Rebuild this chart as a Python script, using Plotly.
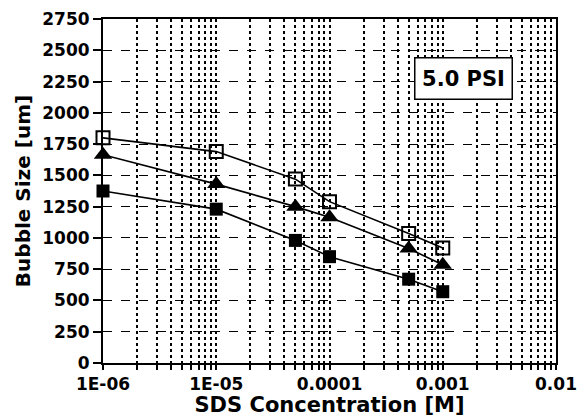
import plotly.graph_objects as go

# Data
sds_conc = [1e-6, 1e-5, 5e-5, 1e-4, 5e-4, 1e-3]
open_squares = [1800, 1690, 1470, 1290, 1035, 920]
triangles = [1665, 1430, 1250, 1165, 915, 785]
filled_squares = [1375, 1230, 980, 850, 670, 570]

major_x_labels = ["1E-06", "1E-05", "0.0001", "0.001", "0.01"]
y_ticks = list(range(0, 2751, 250))

# all log grid positions (1..9 per decade)
x_tickvals = []
x_ticktext = []
for d in range(-6, -2):
    for m in range(1, 10):
        x_tickvals.append(m * 10.0 ** d)
        x_ticktext.append(major_x_labels[d + 6] if m == 1 else "")
x_tickvals.append(1e-2)
x_ticktext.append(major_x_labels[-1])

FONT = "DejaVu Sans"

fig = go.Figure()
fig.add_trace(go.Scatter(
    x=sds_conc, y=open_squares, mode="lines+markers", cliponaxis=False,
    line=dict(color="black", width=1.6),
    marker=dict(symbol="square-open", size=13, color="black", line=dict(width=2)),
    showlegend=False))
fig.add_trace(go.Scatter(
    x=sds_conc, y=triangles, mode="lines+markers", cliponaxis=False,
    line=dict(color="black", width=1.6),
    marker=dict(symbol="triangle-up", size=16, color="black"),
    showlegend=False))
fig.add_trace(go.Scatter(
    x=sds_conc, y=filled_squares, mode="lines+markers", cliponaxis=False,
    line=dict(color="black", width=1.6),
    marker=dict(symbol="square", size=13, color="black"),
    showlegend=False))

fig.update_layout(
    width=581, height=417,
    margin=dict(l=103, r=25, t=19, b=54),
    paper_bgcolor="white", plot_bgcolor="white",
    font=dict(family=FONT, color="black"),
)

fig.update_xaxes(
    type="log", range=[-6, -2],
    tickmode="array", tickvals=x_tickvals, ticktext=x_ticktext,
    tickfont=dict(family=FONT, size=17, weight="bold"),
    ticks="outside", ticklen=5, tickwidth=1.5, tickcolor="black",
    showgrid=True, gridcolor="black", gridwidth=1.5, griddash="dot",
    showline=True, linecolor="black", linewidth=2, mirror=True,
    zeroline=False,
    title=dict(text="SDS Concentration [M]", font=dict(family=FONT, size=21, weight="bold"), standoff=5),
    automargin=False,
)
fig.update_yaxes(
    range=[0, 2750],
    tickmode="array", tickvals=y_ticks, ticktext=[str(v) for v in y_ticks],
    tickfont=dict(family=FONT, size=17, weight="bold"),
    ticks="outside", ticklen=8, tickwidth=1.5, tickcolor="black",
    showgrid=True, gridcolor="black", gridwidth=1.4, griddash="dash",
    showline=True, linecolor="black", linewidth=2, mirror=True,
    zeroline=False,
    title=dict(text="Bubble Size [um]", font=dict(family=FONT, size=20, weight="bold"), standoff=6),
    automargin=False,
)

fig.add_annotation(
    xref="paper", yref="paper", x=0.795, y=0.828,
    xanchor="center", yanchor="middle",
    text="<b>5.0 PSI</b>", showarrow=False,
    font=dict(family=FONT, size=21, color="black"),
    bgcolor="white", bordercolor="black", borderwidth=1.5,
    width=92, height=36, borderpad=2,
)

fig.write_html("out.html")
